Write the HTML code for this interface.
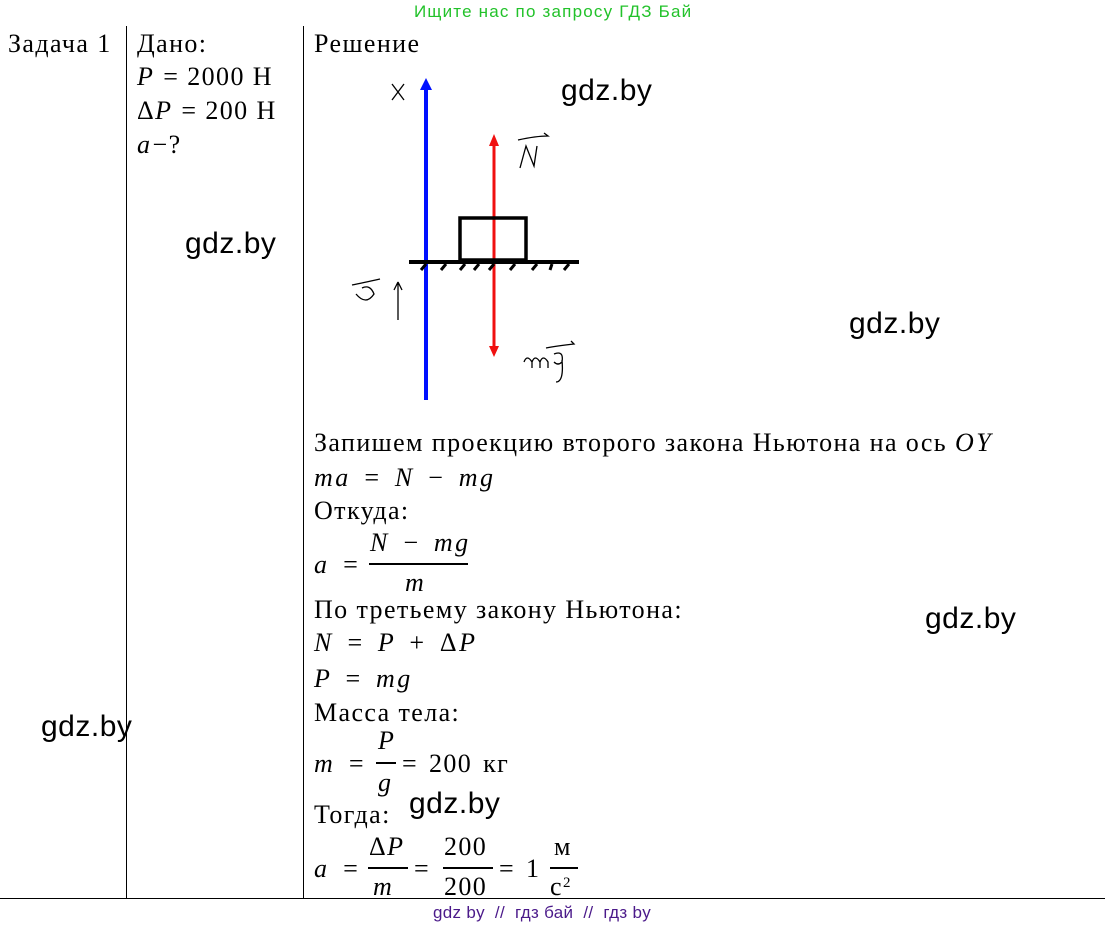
<!DOCTYPE html>
<html><head><meta charset="utf-8"><style>
body{margin:0;width:1105px;height:926px;background:#fff;position:relative;overflow:hidden;font-family:"Liberation Serif","DejaVu Serif",serif;color:#000}
.a{position:absolute;white-space:nowrap;font-size:26px;line-height:1;letter-spacing:1.4px}
.i{font-style:italic}
.m{font-style:italic;letter-spacing:2.5px;word-spacing:3px}
.w{position:absolute;font-family:"Liberation Sans",sans-serif;font-size:30px;line-height:1;letter-spacing:0.5px}
.s{position:absolute;font-family:"Liberation Sans",sans-serif;font-size:17px;line-height:1;white-space:nowrap;letter-spacing:1.2px}
.fr{position:absolute;height:1.5px;background:#000}
</style></head><body>
<div class="s" style="left:414px;top:3px;color:#22c22a">Ищите нас по запросу ГДЗ Бай</div>
<div style="position:absolute;left:126px;top:26px;width:1px;height:872px;background:#000"></div>
<div style="position:absolute;left:303px;top:26px;width:1px;height:872px;background:#000"></div>
<div style="position:absolute;left:0;top:898px;width:1105px;height:1px;background:#000"></div>
<div class="s" style="left:433px;top:904px;color:#4b1a8a;letter-spacing:0.3px">gdz by &nbsp;// &nbsp;гдз бай &nbsp;// &nbsp;гдз by</div>

<div class="a" style="left:8px;top:31px">Задача 1</div>
<div class="a" style="left:137px;top:31px">Дано:</div>
<div class="a" style="left:137px;top:64px"><span class="m">P</span> = 2000 Н</div>
<div class="a" style="left:137px;top:98px">Δ<span class="m">P</span> = 200 Н</div>
<div class="a" style="left:137px;top:132px"><span class="m">a</span>−?</div>
<div class="a" style="left:314px;top:31px">Решение</div>

<svg style="position:absolute;left:340px;top:70px" width="260" height="340">
<line x1="86" y1="330" x2="86" y2="16" stroke="#0010ff" stroke-width="4"/>
<polygon points="80,20 86,8 92,20" fill="#0010ff"/>
<line x1="154" y1="74" x2="154" y2="280" stroke="#f01010" stroke-width="3"/>
<polygon points="149,76 154,64 159,76" fill="#f01010"/>
<polygon points="149,276 154,287 159,276" fill="#f01010"/>
<rect x="120" y="148" width="66" height="42" fill="none" stroke="#000" stroke-width="3.5"/>
<line x1="69" y1="192" x2="239" y2="192" stroke="#000" stroke-width="4"/>
<g stroke="#000" stroke-width="3">
<path d="M81 200l5-6M101 200l5-6M120 200l5-6M134 200l5-6M149 200l5-6M170 200l5-6M192 200l5-6M210 200l2-6M224 200l5-6"/>
</g>
<g fill="none" stroke="#000" stroke-width="1.3">
<path d="M52 14l12 16M64 14l-12 16"/>
<path d="M180 98l6-22l8 20l3-20M178 70q18-4 30-4l-4-3"/>
<path d="M16 224q10 12 18 0q-4-10-12-6M12 215q10-2 28-6M58 250v-38l-4 8M58 212l4 8"/>
<path d="M184 292q3-8 8 0v6M192 292q3-8 8 0v6M200 292q3-8 8 0v6M214 284q10-4 8 8q-4 4-8 0M222 290q2 22-6 22M206 278q10-2 28-4l-3-3"/>
</g>
</svg>

<div class="w" style="left:561px;top:76px">gdz.by</div>
<div class="w" style="left:185px;top:229px">gdz.by</div>
<div class="w" style="left:849px;top:309px">gdz.by</div>
<div class="w" style="left:925px;top:604px">gdz.by</div>
<div class="w" style="left:41px;top:712px">gdz.by</div>
<div class="w" style="left:409px;top:789px">gdz.by</div>

<div class="a" style="left:314px;top:430px">Запишем проекцию второго закона Ньютона на ось <span class="m">OY</span></div>
<div class="a m" style="left:314px;top:465px">ma = N − mg</div>
<div class="a" style="left:314px;top:498px">Откуда:</div>
<div class="a m" style="left:314px;top:552px">a =</div>
<div class="a m" style="left:370px;top:530px">N − mg</div>
<div class="fr" style="left:369px;top:563px;width:99px"></div>
<div class="a m" style="left:405px;top:570px">m</div>
<div class="a" style="left:314px;top:597px">По третьему закону Ньютона:</div>
<div class="a m" style="left:314px;top:630px">N = P + <span style="font-style:normal">Δ</span>P</div>
<div class="a m" style="left:314px;top:666px">P = mg</div>
<div class="a" style="left:314px;top:700px">Масса тела:</div>
<div class="a m" style="left:314px;top:751px">m = </div>
<div class="a m" style="left:378px;top:728px">P</div>
<div class="fr" style="left:376px;top:762px;width:20px"></div>
<div class="a m" style="left:378px;top:770px">g</div>
<div class="a" style="left:402px;top:751px;word-spacing:3px">= 200 кг</div>
<div class="a" style="left:314px;top:802px">Тогда:</div>
<div class="a m" style="left:314px;top:856px">a =</div>
<div class="a" style="left:369px;top:834px">Δ<span class="m">P</span></div>
<div class="fr" style="left:368px;top:867px;width:40px"></div>
<div class="a m" style="left:373px;top:874px">m</div>
<div class="a" style="left:414px;top:856px">=</div>
<div class="a" style="left:444px;top:834px">200</div>
<div class="fr" style="left:443px;top:867px;width:50px"></div>
<div class="a" style="left:444px;top:874px">200</div>
<div class="a" style="left:499px;top:856px;word-spacing:3px">= 1</div>
<div class="a" style="left:554px;top:834px">м</div>
<div class="fr" style="left:550px;top:867px;width:28px"></div>
<div class="a" style="left:550px;top:874px">с<sup style="font-size:15px;vertical-align:8px">2</sup></div>
</body></html>
